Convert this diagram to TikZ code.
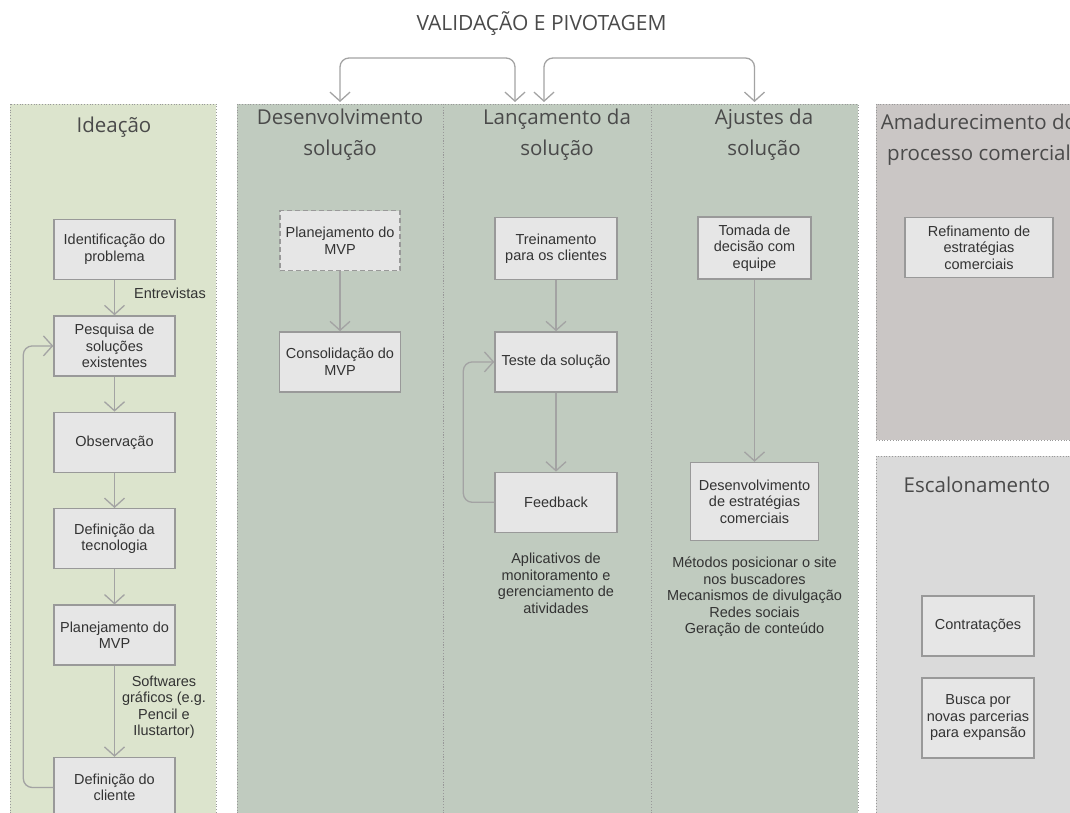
\documentclass[tikz,border=0pt]{standalone}
\usepackage{fontspec}
\setmainfont{Liberation Sans}
\newfontfamily\titlefont{Open Sans}
\usetikzlibrary{arrows.meta, positioning}

\definecolor{ideafill}{HTML}{DCE4CD}
\definecolor{devfill}{HTML}{C0CBBF}
\definecolor{maturefill}{HTML}{CAC6C5}
\definecolor{scalefill}{HTML}{DADADA}
\definecolor{boxfill}{HTML}{E6E6E6}
\definecolor{boxline}{HTML}{999999}
\definecolor{arrowline}{HTML}{A3A3A3}
\definecolor{textgray}{HTML}{333333}
\definecolor{titlegray}{HTML}{4A4A4A}

\begin{document}
\begin{tikzpicture}[
        x=1pt, y=-1pt,
        node distance=35pt,
        pointer/.tip={Straight Barb[length=9pt, width=20pt]},
        panel/.style={draw=boxline, dotted, line width=0.8pt},
        box/.style={rectangle, draw=boxline, fill=boxfill, line width=1.4pt, minimum width=121pt, minimum height=60pt, align=center, text=textgray, font=\fontsize{14.5}{16.5}\selectfont, inner sep=2pt},
        phase/.style={align=center, text=titlegray, font=\titlefont\fontsize{20.5}{31}\selectfont},
        note/.style={align=center, text=textgray, font=\fontsize{14.5}{16.5}\selectfont, inner sep=0pt},
        arrow/.style={-pointer, draw=arrowline, line width=1.3pt},
        loop/.style={arrow, rounded corners=9pt},
        twoway/.style={pointer-pointer, draw=arrowline, line width=1.3pt, rounded corners=9pt}
    ]
    \useasboundingbox (0,0) rectangle (1070,813);
    \clip (0,0) rectangle (1070,813);

    % phases
    \filldraw[panel, fill=ideafill] (10,104) rectangle (216,830);
    \filldraw[panel, fill=devfill] (237,104) rectangle (443.5,830);
    \filldraw[panel, fill=devfill] (443.5,104) rectangle (651,830);
    \filldraw[panel, fill=devfill] (651,104) rectangle (858,830);
    \filldraw[panel, fill=maturefill] (876,104) rectangle (1090,440);
    \filldraw[panel, fill=scalefill] (876,456) rectangle (1090,830);

    \node[phase, font=\titlefont\fontsize{21}{24}\selectfont] (pivot) at (541.5,24) {VALIDAÇÃO E PIVOTAGEM};
    \node[phase] (ideation) at (114,127) {Ideação};
    \node[phase] (development) at (340,134.5) {Desenvolvimento\\solução};
    \node[phase] (launch) at (557,134.5) {Lançamento da\\solução};
    \node[phase] (adjust) at (764,134.5) {Ajustes da\\solução};
    \node[phase] (maturing) at (979,139.5) {Amadurecimento do\\processo comercial};
    \node[phase] (scaling) at (977,485) {Escalonamento};

    % ideacao
    \node[box] (ident) at (114.5,249.5) {Identificação do\\problema};
    \node[box, below=of ident] (search) {Pesquisa de\\soluções\\existentes};
    \node[box, below=of search] (observe) {Observação};
    \node[box, below=of observe] (tech) {Definição da\\tecnologia};
    \node[box, below=of tech] (mvpplan) {Planejamento do\\MVP};
    \node[box, below=91pt of mvpplan] (client) {Definição do\\cliente};
    \node[note, anchor=east] (interviews) at (206,293) {Entrevistas};
    \node[note] (software) at (164,707) {Softwares\\gráficos (e.g.\\Pencil e\\Ilustartor)};

    \draw[arrow] (ident) -- (search);
    \draw[arrow] (search) -- (observe);
    \draw[arrow] (observe) -- (tech);
    \draw[arrow] (tech) -- (mvpplan);
    \draw[arrow] (mvpplan) -- (client);
    \draw[loop] (client.west) -- ++(-30,0) |- (search.west);

    % desenvolvimento
    \node[box, dashed, dash pattern=on 5pt off 3pt, minimum width=120pt] (devplan) at (340,240.5) {Planejamento do\\MVP};
    \node[box, below=60pt of devplan] (consol) {Consolidação do\\MVP};
    \draw[arrow] (devplan) -- (consol);

    % lancamento
    \node[box, minimum width=122pt, minimum height=62pt] (train) at (556,248.5) {Treinamento\\para os clientes};
    \node[box, minimum width=122pt, below=51pt of train] (test) {Teste da solução};
    \node[box, minimum width=122pt, below=79pt of test] (feedback) {Feedback};
    \node[note, below=20pt of feedback] (apps) {Aplicativos de\\monitoramento e\\gerenciamento de\\atividades};
    \draw[arrow] (train) -- (test);
    \draw[arrow] (test) -- (feedback);
    \draw[loop] (feedback.west) -- ++(-31,0) |- (test.west);

    % ajustes
    \node[box, minimum width=113pt, minimum height=62pt] (decide) at (754.5,248) {Tomada de\\decisão com\\equipe};
    \node[box, minimum width=128pt, minimum height=78pt] (strategy) at (754.5,501.5) {Desenvolvimento\\de estratégias\\comerciais};
    \node[note] (methods) at (754.5,597) {Métodos posicionar o site\\nos buscadores\\Mecanismos de divulgação\\Redes sociais\\Geração de conteúdo};
    \draw[arrow] (decide) -- (strategy);

    % amadurecimento e escalonamento
    \node[box, minimum width=148pt] (refine) at (979,247.5) {Refinamento de\\estratégias\\comerciais};
    \node[box, minimum width=112pt] (hiring) at (978,626) {Contratações};
    \node[box, minimum width=112pt, minimum height=80pt] (partners) at (978,718) {Busca por\\novas parcerias\\para expansão};

    % validacao e pivotagem
    \coordinate (devtop) at (340,102);
    \coordinate (launchleft) at (515,102);
    \coordinate (launchright) at (544,102);
    \coordinate (adjusttop) at (754.5,102);
    \draw[twoway] (devtop) -- ++(0,-44) -| (launchleft);
    \draw[twoway] (launchright) -- ++(0,-44) -| (adjusttop);
\end{tikzpicture}
\end{document}
